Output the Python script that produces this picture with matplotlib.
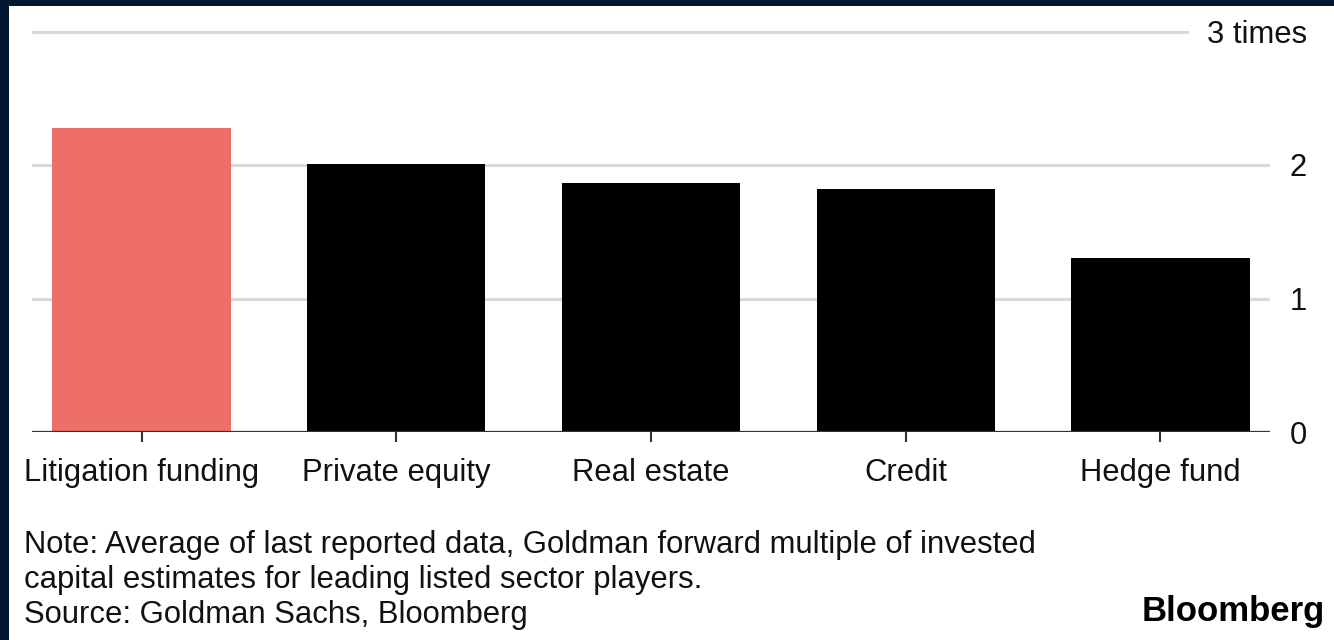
import matplotlib.pyplot as plt
from matplotlib.patches import Rectangle

categories = ["Litigation funding", "Private equity", "Real estate", "Credit", "Hedge fund"]
values = [2.28, 2.01, 1.865, 1.82, 1.30]
bar_colors = ["#ee6f69", "#000000", "#000000", "#000000", "#000000"]
yticks = [0, 1, 2, 3]
ytick_labels = ["0", "1", "2", "3 times"]
note_lines = [
    "Note: Average of last reported data, Goldman forward multiple of invested",
    "capital estimates for leading listed sector players.",
    "Source: Goldman Sachs, Bloomberg",
]

W, H = 1334, 640
plt.rcParams['font.family'] = ['Liberation Sans', 'DejaVu Sans']

fig = plt.figure(figsize=(W / 100, H / 100), dpi=100, facecolor="#00172f")
# white card inside the dark frame
fig.patches.append(Rectangle((9 / W, 0), 1 - 9 / W, 1 - 6 / H, transform=fig.transFigure,
                             facecolor="white", edgecolor="none", zorder=-10))

ax_left, ax_right = 32, 1270
ax_bottom, ax_top = 432, 25
ax = fig.add_axes([ax_left / W, 1 - ax_bottom / H, (ax_right - ax_left) / W, (ax_bottom - ax_top) / H])
ax.set_facecolor("none")

px_per_unit = (432 - 165) / 2.0
ax.set_ylim(0, (ax_bottom - ax_top) / px_per_unit)
ax.set_xlim(-0.43, len(categories) - 1 + 0.43)

x = list(range(len(categories)))
ax.bar(x, values, width=0.70, color=bar_colors, zorder=2)

# gridlines
for t in yticks[1:]:
    xmax = 1.0 if t != 3 else (1187 - ax_left) / (ax_right - ax_left)
    ax.axhline(t, xmin=0, xmax=xmax, color="#d9d9d9", lw=2.2, zorder=1)
ax.axhline(0, color="#333333", lw=1.6, zorder=3)

for s in ax.spines.values():
    s.set_visible(False)

ax.yaxis.tick_right()
ax.set_yticks(yticks)
ax.set_yticklabels(ytick_labels, fontsize=22.3, color="#111111")
for lab in ax.get_yticklabels():
    lab.set_horizontalalignment("right")
ax.tick_params(axis="y", length=0, pad=(1307 - ax_right) * 0.72)

ax.set_xticks(x)
ax.set_xticklabels(categories, fontsize=22.3, color="#111111")
ax.tick_params(axis="x", length=7, width=1.5, color="#333333", pad=12)

for i, line in enumerate(note_lines):
    fig.text(24 / W, 1 - (545 + 35 * i) / H, line, fontsize=22.3, color="#111111",
             ha="left", va="center")

fig.text(1325 / W, 1 - 612 / H, "Bloomberg", fontsize=25, fontweight="bold",
         color="black", ha="right", va="center")

fig.savefig("out.png", dpi=100, facecolor=fig.get_facecolor())
